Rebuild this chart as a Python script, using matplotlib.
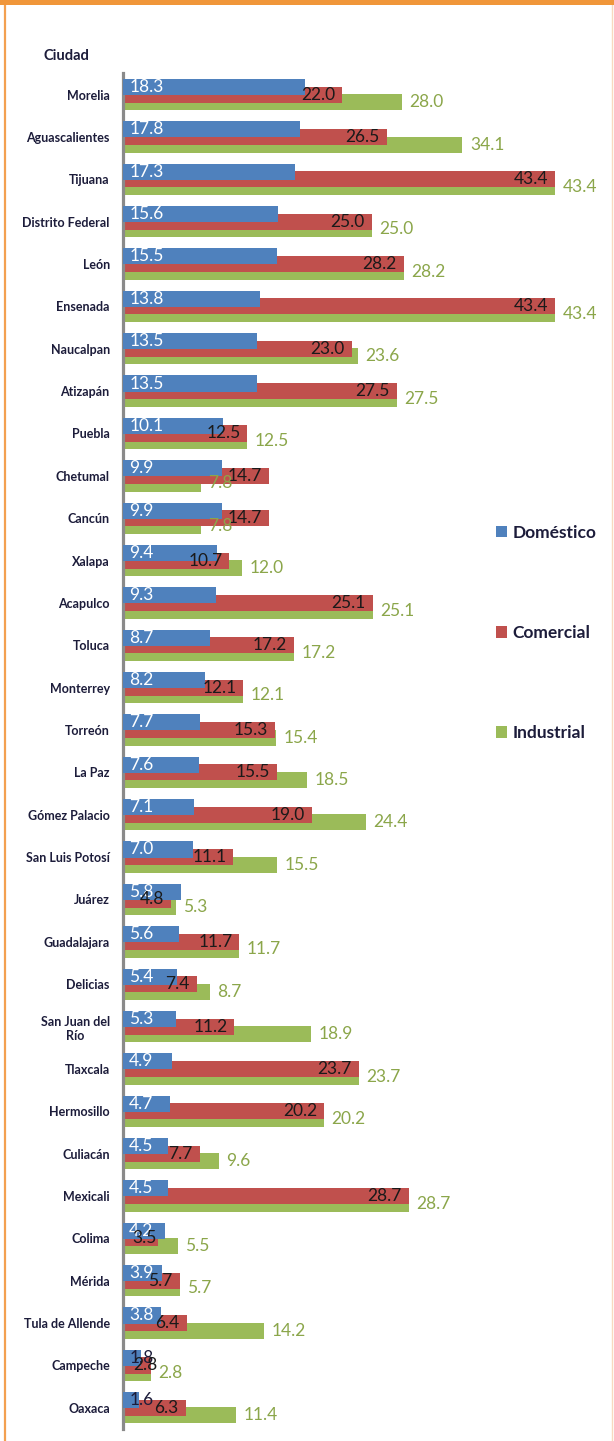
import numpy as np
import matplotlib
matplotlib.use('Agg')
import matplotlib.pyplot as plt
from matplotlib.patches import Rectangle, Patch
from matplotlib.lines import Line2D

# data
cities = ['Morelia', 'Aguascalientes', 'Tijuana', 'Distrito Federal', 'León',
          'Ensenada', 'Naucalpan', 'Atizapán', 'Puebla', 'Chetumal', 'Cancún',
          'Xalapa', 'Acapulco', 'Toluca', 'Monterrey', 'Torreón', 'La Paz',
          'Gómez Palacio', 'San Luis Potosí', 'Juárez', 'Guadalajara', 'Delicias',
          'San Juan del\nRío', 'Tlaxcala', 'Hermosillo', 'Culiacán', 'Mexicali',
          'Colima', 'Mérida', 'Tula de Allende', 'Campeche', 'Oaxaca']
domestico = [18.3, 17.8, 17.3, 15.6, 15.5, 13.8, 13.5, 13.5, 10.1, 9.9, 9.9,
             9.4, 9.3, 8.7, 8.2, 7.7, 7.6, 7.1, 7.0, 5.8, 5.6, 5.4,
             5.3, 4.9, 4.7, 4.5, 4.5, 4.2, 3.9, 3.8, 1.8, 1.6]
comercial = [22.0, 26.5, 43.4, 25.0, 28.2, 43.4, 23.0, 27.5, 12.5, 14.7, 14.7,
             10.7, 25.1, 17.2, 12.1, 15.3, 15.5, 19.0, 11.1, 4.8, 11.7, 7.4,
             11.2, 23.7, 20.2, 7.7, 28.7, 3.5, 5.7, 6.4, 2.8, 6.3]
industrial = [28.0, 34.1, 43.4, 25.0, 28.2, 43.4, 23.6, 27.5, 12.5, 7.8, 7.8,
              12.0, 25.1, 17.2, 12.1, 15.4, 18.5, 24.4, 15.5, 5.3, 11.7, 8.7,
              18.9, 23.7, 20.2, 9.6, 28.7, 5.5, 5.7, 14.2, 2.8, 11.4]
series_names = ['Doméstico', 'Comercial', 'Industrial']

BLUE = '#4F81BD'
RED = '#C0504D'
GREEN = '#9BBB59'
ORANGE = '#F0963A'
NAVY = '#1c1c3a'
FONT = ['Lato', 'DejaVu Sans']

W, H = 614, 1441
fig = plt.figure(figsize=(W / 100, H / 100), dpi=100)
fig.patch.set_facecolor('white')

# axes placed in pixel terms
ax_left, ax_right, ax_top, ax_bottom = 123, 603, 73, 1429
ax = fig.add_axes([ax_left / W, 1 - ax_bottom / H,
                   (ax_right - ax_left) / W, (ax_bottom - ax_top) / H])
px_per_unit = 9.95
ax.set_xlim(0, (ax_right - ax_left) / px_per_unit)
n = len(cities)
ax.set_ylim(n - 0.5, -0.51)

y = np.arange(n)
bh = 0.38
off = 0.18
ax.barh(y + off, industrial, height=bh, color=GREEN, zorder=1)
ax.barh(y, comercial, height=bh, color=RED, zorder=2)
ax.barh(y - off, domestico, height=bh, color=BLUE, zorder=3)

lbl_size = 12.5

for i in range(n):
    d, c, g = domestico[i], comercial[i], industrial[i]
    # blue: inside base
    ax.annotate(f'{d:.1f}', (0, i - off), xytext=(4.5, 0), textcoords='offset points',
                ha='left', va='center', fontsize=lbl_size, family=FONT,
                color='white' if d >= 2 else NAVY, zorder=5)
    # red: inside end
    if c >= 4:
        ax.annotate(f'{c:.1f}', (c, i), xytext=(-5, 0), textcoords='offset points',
                    ha='right', va='center', fontsize=lbl_size, family=FONT,
                    color='#1a1a1a', zorder=5)
    else:
        ax.annotate(f'{c:.1f}', (0, i), xytext=(7, 0), textcoords='offset points',
                    ha='left', va='center', fontsize=lbl_size, family=FONT,
                    color='#1a1a1a', zorder=5)
    # green: outside end
    ax.annotate(f'{g:.1f}', (g, i + off), xytext=(5.5, 0), textcoords='offset points',
                ha='left', va='center', fontsize=lbl_size, family=FONT,
                color='#8BA64A', zorder=5)

ax.set_yticks(y)
ax.set_yticklabels(cities, fontsize=9, fontweight='bold', color=NAVY,
                   family=FONT, multialignment='center')
ax.tick_params(axis='y', length=0, pad=9.5)
ax.set_xticks([])
for s in ['top', 'right', 'bottom']:
    ax.spines[s].set_visible(False)
ax.spines['left'].set_color('#8a8a8a')
ax.spines['left'].set_linewidth(2.3)
ax.set_facecolor('none')

fig.text(43 / W, 1 - 56 / H, 'Ciudad', fontsize=10.5, fontweight='bold',
         color=NAVY, family=FONT, ha='left', va='center')

handles = [Patch(facecolor=c, edgecolor='none') for c in (BLUE, RED, GREEN)]
fig.legend(handles, series_names, loc='center left',
           bbox_to_anchor=(496 / W, 1 - 633 / H), bbox_transform=fig.transFigure,
           frameon=False, borderpad=0, borderaxespad=0,
           prop={'family': FONT, 'weight': 'bold', 'size': 12.5},
           labelcolor=NAVY, handlelength=0.65, handleheight=0.65,
           handletextpad=0.3, labelspacing=4.85)

# orange frame
fig.patches.append(Rectangle((0, 1 - 5 / H), 1, 5 / H, transform=fig.transFigure,
                             facecolor=ORANGE, edgecolor='none', zorder=10))
fig.lines.append(Line2D([4.5 / W, 4.5 / W], [0, 1], transform=fig.transFigure,
                        color='#F3A050', linewidth=1.6, zorder=10))
fig.lines.append(Line2D([612 / W, 612 / W], [0, 1 - 5 / H], transform=fig.transFigure,
                        color='#F8D9BE', linewidth=1.0, zorder=10))

fig.savefig('out.png', dpi=100)
